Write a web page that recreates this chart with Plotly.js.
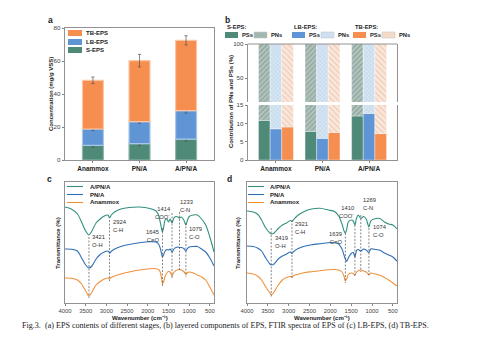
<!DOCTYPE html>
<html><head><meta charset="utf-8">
<script src="https://cdn.plot.ly/plotly-3.0.1.min.js"></script>
<style>html,body{margin:0;padding:0;background:#fff}#chart{width:488px;height:349px}</style>
</head><body><div id="chart"></div><script>
// ---------- data ----------
const stages = ['Anammox', 'PN/A', 'A/PN/A'];
// (a) EPS contents, mg/g VSS
const sEPS  = [8.9, 9.9, 12.7];
const lbEPS = [9.9, 13.3, 17.2];
const tbEPS = [29.5, 37.0, 42.6];
const sErr  = [1.2, 1.3, 1.2];
const lbErr = [1.0, 1.0, 1.5];
const tbErr = [2.0, 3.8, 2.8];
// (b) contributions, %
const psS  = [10.8, 7.8, 12.0];
const pnS  = [89.2, 92.2, 88.0];
const psLB = [8.5, 5.9, 12.7];
const pnLB = [91.5, 94.1, 87.3];
const psTB = [9.0, 7.5, 7.2];
const pnTB = [91.0, 92.5, 92.8];
// (c) FTIR LB-EPS (offset transmittance, a.u.)
const wnC = [4000,3850,3700,3600,3500,3421,3350,3250,3150,3050,2960,2924,2880,2800,2650,2450,2200,1950,1800,1740,1700,1660,1645,1620,1580,1540,1500,1460,1414,1370,1320,1270,1233,1190,1130,1079,1040,1000,900,800,700,600,500,400];
const cAPNA = [96,94,89,81,72,68,72,80,84,87,88,85,88,91,94,95.5,96,94.5,92,88,81,73,71,75,83,84,81,84,80,85,86.5,86,85,86,83,78,83,86.5,88,88,84,78,66,51];
const cPNA  = [54,53.8,52,45,38,35,37,44,48.5,51,52,50,51.8,54,56.5,58.5,60.3,61.3,61,59,55,48,46,48,52,53.5,53,54,51,54,55.5,56,55.5,55.5,54.5,52,54.5,56,56.5,56.5,54,51,45,37];
const cAMX  = [25,24.7,23,19,12,7,11,18,21.5,24,25,24,25.5,27,29,31,33,34.3,34.3,33.5,31,23,19,21,27,30,31.5,31,27,30.5,32.5,33.3,33.5,33,31.5,28.5,30.5,31,30,28,26,23,16,8];
const peaksC = [3421, 2924, 1645, 1414, 1233, 1079];
const groupsC = ['O-H', 'C-H', 'C=O', 'COO⁻', 'C-N', 'C-O'];
// (d) FTIR TB-EPS
const wnD = [4000,3850,3750,3650,3550,3450,3408,3350,3250,3150,3050,2960,2921,2880,2770,2600,2450,2250,2050,1900,1800,1720,1670,1639,1605,1570,1500,1450,1410,1370,1330,1269,1200,1140,1074,1030,950,811,700,600,500,400];
const dAPNA = [92,91,89,83,75,70,69,70,74.5,78,80,82.5,81.5,83.5,88,92,94,94.7,93,91.5,87,79,72,70,74,81,83,82,78,85,88,84.5,86.5,84,76,82,84,84.5,81,79,78,74];
const dPNA  = [57,56.5,55,52,45,39,38,39,44,47,49,51,49.5,51.5,54.5,57,58.2,59.3,60.3,60.3,59,54,47.5,44,41.5,45,49.5,50.5,46,52.5,53.5,52,54,53,50.5,54,53.8,52.7,50,48,46,42];
const dAMX  = [30,29,27,23,16,10,8,11,18,23,25.5,26.5,26,27.5,28.8,30.5,31.3,32.3,33.2,33.5,33,31,26.5,22,24.5,28.5,30,29.5,28,31,32.3,33,32,31,28.5,30,29.2,27.7,25.5,23,20,17];
const peaksD = [3419, 2921, 1639, 1410, 1269, 1074];
const groupsD = ['O-H', 'C-H', 'C=O', 'COO⁻', 'C-N', 'C-O'];

// ---------- styling / layout helpers ----------
const W = 488, H = 349;
const fx = p => p / W, fy = p => 1 - p / H;
const FONT = 'Liberation Sans, Arial, sans-serif';
const C_TB = '#f58e4f', C_LB = '#5f95d4', C_S = '#4e8a77';
const C_TEAL = '#33907f', C_BLUE = '#2f6fb8', C_ORG = '#f0913a';

function interp(xs, ys, x) {
  for (let i = 0; i < xs.length - 1; i++) {
    if ((xs[i] >= x && xs[i + 1] <= x)) {
      const t = (x - xs[i]) / (xs[i + 1] - xs[i]);
      return ys[i] + t * (ys[i + 1] - ys[i]);
    }
  }
  return ys[ys.length - 1];
}

const traces = [];
// ---- panel a: stacked bars ----
const baseLB = sEPS.slice();
const baseTB = sEPS.map((v, i) => v + lbEPS[i]);
const errStyle = arr => ({type: 'data', array: arr, color: '#555', thickness: 0.7, width: 1.6});
traces.push({type: 'bar', x: stages, y: sEPS, width: 0.45, xaxis: 'x', yaxis: 'y',
  marker: {color: C_S, line: {color: '#8fb7aa', width: 1.2}}, error_y: errStyle(sErr), showlegend: false});
traces.push({type: 'bar', x: stages, y: lbEPS, base: baseLB, width: 0.45, xaxis: 'x', yaxis: 'y',
  marker: {color: C_LB, line: {color: '#a9c7ea', width: 1.2}}, error_y: errStyle(lbErr), showlegend: false});
traces.push({type: 'bar', x: stages, y: tbEPS, base: baseTB, width: 0.45, xaxis: 'x', yaxis: 'y',
  marker: {color: C_TB, line: {color: '#fbc6a3', width: 1.2}}, error_y: errStyle(tbErr), showlegend: false});

// ---- panel b: broken-axis grouped bars ----
const layersB = [
  {ps: psS, pn: pnS, off: -0.375, col: C_S, bg: '#b3c4bd', fg: '#5f8177', shape: '/', size: 3.5, sol: 0.35},
  {ps: psLB, pn: pnLB, off: -0.125, col: C_LB, bg: '#d5e5f3', fg: '#8eaecf', shape: 'x', size: 3, sol: 0.22},
  {ps: psTB, pn: pnTB, off: 0.125, col: C_TB, bg: '#fbe7da', fg: '#d5a283', shape: '\\', size: 4, sol: 0.25}
];
layersB.forEach(L => {
  const pat = {fillmode: 'overlay', shape: L.shape, fgcolor: L.fg, size: L.size, solidity: L.sol};
  traces.push({type: 'bar', x: stages, y: L.ps, offset: L.off, width: 0.25, xaxis: 'x2', yaxis: 'y2',
    marker: {color: L.col, line: {color: 'rgba(255,255,255,0.6)', width: 0.6}}, showlegend: false});
  ['y2', 'y3'].forEach(ya => traces.push({type: 'bar', x: stages, y: L.pn, base: L.ps, offset: L.off, width: 0.25,
    xaxis: 'x2', yaxis: ya, marker: {color: L.bg, pattern: pat, line: {color: 'rgba(255,255,255,0.6)', width: 0.6}}, showlegend: false}));
});

// ---- panels c, d: FTIR ----
[[cAPNA, C_TEAL], [cPNA, C_BLUE], [cAMX, C_ORG]].forEach(([ys, col]) =>
  traces.push({type: 'scatter', mode: 'lines', x: wnC, y: ys, xaxis: 'x3', yaxis: 'y4',
    line: {color: col, width: 1.1, shape: 'spline', smoothing: 0.8}, showlegend: false}));
[[dAPNA, C_TEAL], [dPNA, C_BLUE], [dAMX, C_ORG]].forEach(([ys, col]) =>
  traces.push({type: 'scatter', mode: 'lines', x: wnD, y: ys, xaxis: 'x4', yaxis: 'y5',
    line: {color: col, width: 1.1, shape: 'spline', smoothing: 0.8}, showlegend: false}));

// ---------- annotations & shapes ----------
const ann = [], shapes = [];
function T(px, py, text, opt = {}) {
  const f = Object.assign({family: FONT, size: 6, color: '#222'}, opt.font || {});
  const o = Object.assign({xref: 'paper', yref: 'paper', x: fx(px), y: fy(py), text: text, showarrow: false,
    xanchor: 'center', yanchor: 'middle'}, opt);
  o.font = f;
  ann.push(o);
}
function R(x0, y0, x1, y1, fill, line) {
  shapes.push({type: 'rect', xref: 'paper', yref: 'paper', x0: fx(x0), x1: fx(x1), y0: fy(y1), y1: fy(y0),
    fillcolor: fill, line: {color: line || fill, width: line ? 0.6 : 0}});
}
function Lp(x0, y0, x1, y1, col, w) {
  shapes.push({type: 'line', xref: 'paper', yref: 'paper', x0: fx(x0), x1: fx(x1), y0: fy(y0), y1: fy(y1),
    line: {color: col, width: w || 1}});
}

// panel letters
T(50, 20, '<b>a</b>', {font: {size: 8.5}});
T(227, 20, '<b>b</b>', {font: {size: 8.5}});
T(49, 179, '<b>c</b>', {font: {size: 8.5}});
T(229, 179, '<b>d</b>', {font: {size: 8.5}});

// axis titles
T(51, 94, '<b>Concentration (mg/g VSS)</b>', {textangle: -90, font: {size: 6}});
T(231, 102, '<b>Contribution of PNs and PSs (%)</b>', {textangle: -90, font: {size: 6}});
T(58, 243, '<b>Transmittance (%)</b>', {textangle: -90, font: {size: 6}});
T(238, 243, '<b>Transmittance (%)</b>', {textangle: -90, font: {size: 6}});
T(139.5, 318, '<b>Wavenumber (cm⁻¹)</b>', {font: {size: 6}});
T(322, 318, '<b>Wavenumber (cm⁻¹)</b>', {font: {size: 6}});

// legend a
[['TB-EPS', C_TB, 33], ['LB-EPS', C_LB, 42], ['S-EPS', C_S, 50]].forEach(([t, c, y]) => {
  R(68, y - 3, 82, y + 3, c);
  T(84, y, '<b>' + t + '</b>', {xanchor: 'left', font: {size: 6}});
});
// legend b
[['S-EPS:', 225, C_S, '#a2b6ae'], ['LB-EPS:', 292, C_LB, '#cddff0'], ['TB-EPS:', 353, C_TB, '#f6dac8']].forEach(([t, x, c, h]) => {
  T(x, 27, '<b>' + t + '</b>', {xanchor: 'left', font: {size: 5.8}});
  R(x, 32, x + 13, 38, c);
  T(x + 15, 35, '<b>PSs</b>', {xanchor: 'left', font: {size: 5.8}});
  R(x + 29, 32, x + 42, 38, h, '#c9c9c9');
  T(x + 44, 35, '<b>PNs</b>', {xanchor: 'left', font: {size: 5.8}});
});
// legends c, d
[[67, 88], [248, 268]].forEach(([lx, tx]) => {
  [['A/PN/A', C_TEAL, 186.5], ['PN/A', C_BLUE, 194.5], ['Anammox', C_ORG, 202.5]].forEach(([t, c, y]) => {
    Lp(lx, y, lx + 16, y, c, 1.1);
    T(tx, y, '<b>' + t + '</b>', {xanchor: 'left', font: {size: 6}});
  });
});
// top border of panel b
Lp(248, 44, 397, 44, '#777', 0.8);

// FTIR peak markers
const labC = [{v: 61.5, a: 'left', s: 1.5, top: 66}, {v: 76.5, a: 'left', s: 1.5, top: 83}, {v: 66.5, a: 'right', s: -1, top: 75},
  {v: 89.5, a: 'right', s: 0.5, top: 90}, {v: 96.5, a: 'left', s: -2, top: 91}, {v: 69.5, a: 'left', s: 1, top: 80}];
const labD = [{v: 60.5, a: 'left', s: 1.5, top: 75}, {v: 74.5, a: 'left', s: 1.5, top: 83}, {v: 64.5, a: 'right', s: -1, top: 70},
  {v: 91, a: 'right', s: 1, top: 78}, {v: 98.5, a: 'left', s: 0, top: 88}, {v: 71.5, a: 'left', s: 2, top: 75}];
function peaks(pk, names, lab, wn, low, xa, ya) {
  pk.forEach((p, i) => {
    const bottom = interp(wn, low, p) - 2;
    shapes.push({type: 'line', xref: xa, yref: ya, x0: p, x1: p, y0: lab[i].top, y1: bottom,
      line: {color: '#555', width: 0.7, dash: '2px,1.5px'}});
    ann.push({xref: xa, yref: ya, x: p, y: lab[i].v, text: p + '<br>' + names[i], showarrow: false,
      xanchor: lab[i].a, yanchor: 'middle', xshift: lab[i].s, align: lab[i].a === 'right' ? 'right' : 'left',
      font: {family: FONT, size: 5.8, color: '#333'}});
  });
}
peaks(peaksC, groupsC, labC, wnC, cAMX, 'x3', 'y4');
peaks(peaksD, groupsD, labD, wnD, dAMX, 'x4', 'y5');

// caption
T(20, 325, 'Fig.3.  (a) EPS contents of different stages, (b) layered components of EPS, FTIR spectra of EPS of (c) LB-EPS, (d) TB-EPS.',
  {xanchor: 'left', font: {family: 'Liberation Serif, Times New Roman, serif', size: 8.1, color: '#222'}});

// ---------- axes ----------
const tickF = {family: FONT, size: 6.2, color: '#444'};
const catAxis = (dom, anchor) => ({domain: dom, anchor: anchor, type: 'category', range: [-0.6, 2.6],
  showline: true, linecolor: '#777', linewidth: 0.8, ticks: 'outside', ticklen: 2.5, tickcolor: '#666', tickwidth: 0.8,
  tickfont: {family: FONT, size: 6.5, color: '#222', weight: 'bold'}, showgrid: false, zeroline: false, fixedrange: true});
const ftirX = (dom, anchor) => ({domain: dom, anchor: anchor, range: [4000, 400], tickvals: [4000, 3500, 3000, 2500, 2000, 1500, 1000, 500],
  showline: true, mirror: true, linecolor: '#777', linewidth: 0.8, ticks: 'outside', ticklen: 2.5, tickcolor: '#666', tickwidth: 0.8,
  tickfont: {family: FONT, size: 5.9, color: '#444'}, showgrid: false, zeroline: false});
const ftirY = (dom, anchor) => ({domain: dom, anchor: anchor, range: [0, 121], showticklabels: false, ticks: '',
  showline: true, mirror: true, linecolor: '#777', linewidth: 0.8, showgrid: false, zeroline: false});

const layout = {
  width: W, height: H, autosize: false, margin: {l: 0, r: 0, t: 0, b: 0},
  paper_bgcolor: '#fff', plot_bgcolor: 'rgba(0,0,0,0)', barmode: 'overlay', showlegend: false,
  font: {family: FONT},
  xaxis: Object.assign(catAxis([fx(65), fx(214)], 'y'), {mirror: true}),
  yaxis: {domain: [fy(160), fy(28)], anchor: 'x', range: [0, 80], tickvals: [0, 20, 40, 60, 80],
    showline: true, mirror: true, linecolor: '#777', linewidth: 0.8, ticks: 'outside', ticklen: 2.5, tickcolor: '#666', tickwidth: 0.8,
    tickfont: tickF, showgrid: false, zeroline: false},
  xaxis2: catAxis([fx(248), fx(397)], 'y2'),
  yaxis2: {domain: [fy(160), fy(105)], anchor: 'x2', range: [0, 15], tickvals: [0, 5, 10, 15],
    showline: true, mirror: true, linecolor: '#777', linewidth: 0.8, ticks: 'outside', ticklen: 2.5, tickcolor: '#666', tickwidth: 0.8,
    tickfont: tickF, showgrid: false, zeroline: false},
  yaxis3: {domain: [fy(102), fy(44)], anchor: 'x2', range: [15, 100], tickvals: [50, 100],
    showline: true, mirror: true, linecolor: '#777', linewidth: 0.8, ticks: 'outside', ticklen: 2.5, tickcolor: '#666', tickwidth: 0.8,
    tickfont: tickF, showgrid: false, zeroline: false},
  xaxis3: ftirX([fx(65), fx(214)], 'y4'),
  yaxis4: ftirY([fy(303), fy(182)], 'x3'),
  xaxis4: ftirX([fx(247), fx(397)], 'y5'),
  yaxis5: ftirY([fy(303), fy(182)], 'x4'),
  annotations: ann, shapes: shapes
};
Plotly.newPlot('chart', traces, layout, {staticPlot: true, displayModeBar: false});
</script></body></html>
